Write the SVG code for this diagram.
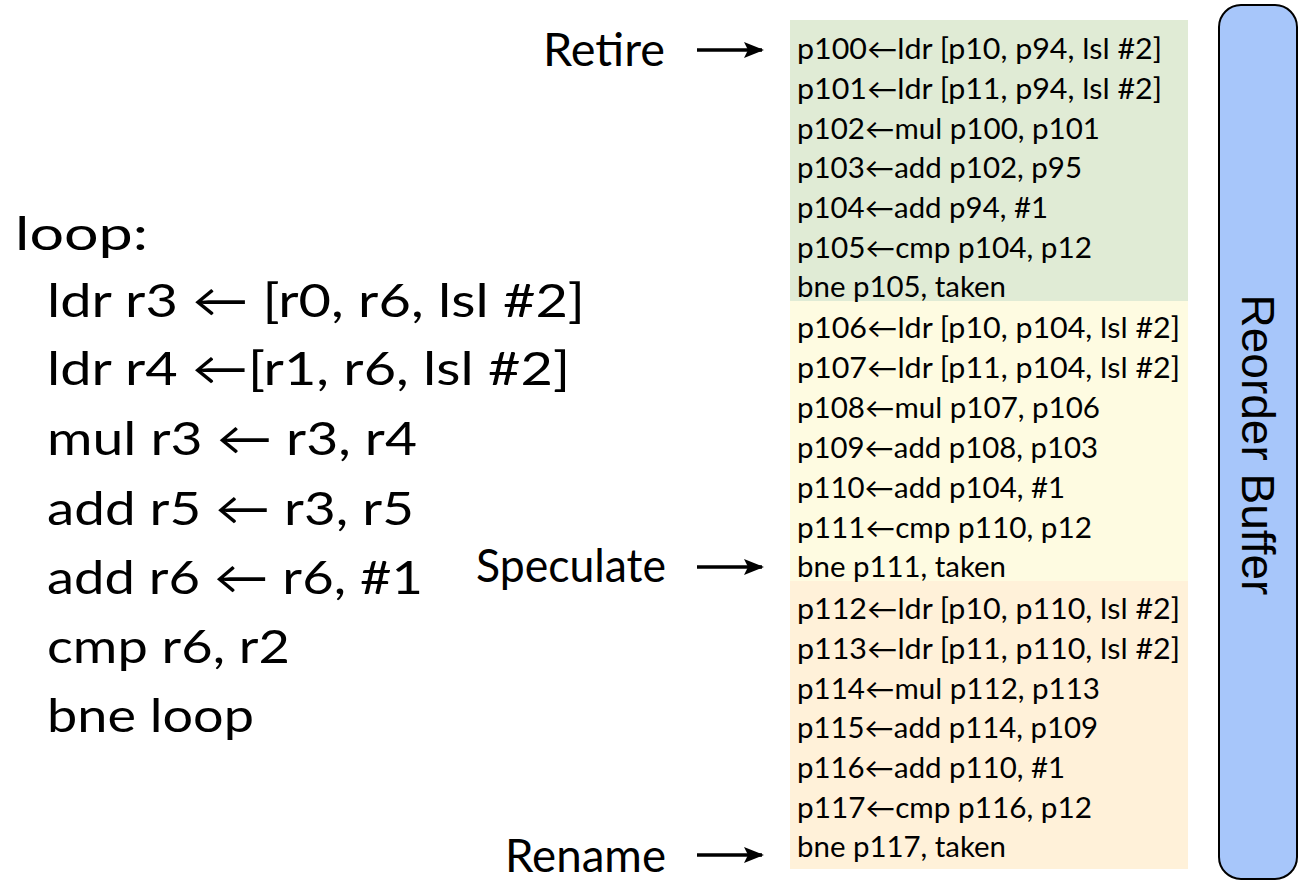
<svg xmlns="http://www.w3.org/2000/svg" width="1316" height="886" viewBox="0 0 1316 886">
<style>
.code{font-family:Lato,"Open Sans","DejaVu Sans",sans-serif;font-size:46px;fill:#000}
.rob{font-family:Lato,"Open Sans","DejaVu Sans",sans-serif;font-size:28px;fill:#000}
.lbl{font-family:Lato,"Open Sans","DejaVu Sans",sans-serif;font-size:46px;fill:#000}
.title{font-family:"Liberation Sans",Arial,sans-serif;font-size:46px;fill:#000}
</style>
<defs>
<marker id="ah" viewBox="0 0 20 16" refX="18" refY="8" markerWidth="20" markerHeight="16" orient="auto" markerUnits="userSpaceOnUse">
<path d="M0,0 L20,8 L0,16 L4,8 z" fill="#000"/>
</marker>
</defs>
<rect width="1316" height="886" fill="#fff"/>

<g id="code">
<text class="code" x="15" y="250" textLength="133" lengthAdjust="spacingAndGlyphs">loop:</text>
<text class="code" x="47" y="317" textLength="538" lengthAdjust="spacingAndGlyphs">ldr r3 ← [r0, r6, lsl #2]</text>
<text class="code" x="47" y="385" textLength="523" lengthAdjust="spacingAndGlyphs">ldr r4 ←[r1, r6, lsl #2]</text>
<text class="code" x="47" y="455" textLength="370" lengthAdjust="spacingAndGlyphs">mul r3 ← r3, r4</text>
<text class="code" x="47" y="525" textLength="367" lengthAdjust="spacingAndGlyphs">add r5 ← r3, r5</text>
<text class="code" x="47" y="594" textLength="376" lengthAdjust="spacingAndGlyphs">add r6 ← r6, #1</text>
<text class="code" x="47" y="663" textLength="243" lengthAdjust="spacingAndGlyphs">cmp r6, r2</text>
<text class="code" x="47" y="732" textLength="207" lengthAdjust="spacingAndGlyphs">bne loop</text>
</g>

<g id="rob-entries">
<rect x="790" y="20" width="398" height="281" fill="#e0ebd5"/>
<rect x="790" y="301" width="398" height="280" fill="#fefbe1"/>
<rect x="790" y="581" width="398" height="288" fill="#fff1d9"/>
<text class="rob" x="797" y="59" textLength="365" lengthAdjust="spacingAndGlyphs">p100←ldr [p10, p94, lsl #2]</text>
<text class="rob" x="797" y="99" textLength="365" lengthAdjust="spacingAndGlyphs">p101←ldr [p11, p94, lsl #2]</text>
<text class="rob" x="797" y="139" textLength="303" lengthAdjust="spacingAndGlyphs">p102←mul p100, p101</text>
<text class="rob" x="797" y="178" textLength="285" lengthAdjust="spacingAndGlyphs">p103←add p102, p95</text>
<text class="rob" x="797" y="218" textLength="251" lengthAdjust="spacingAndGlyphs">p104←add p94, #1</text>
<text class="rob" x="797" y="258" textLength="295" lengthAdjust="spacingAndGlyphs">p105←cmp p104, p12</text>
<text class="rob" x="797" y="297" textLength="209" lengthAdjust="spacingAndGlyphs">bne p105, taken</text>
<text class="rob" x="797" y="338" textLength="383" lengthAdjust="spacingAndGlyphs">p106←ldr [p10, p104, lsl #2]</text>
<text class="rob" x="797" y="378" textLength="383" lengthAdjust="spacingAndGlyphs">p107←ldr [p11, p104, lsl #2]</text>
<text class="rob" x="797" y="418" textLength="303" lengthAdjust="spacingAndGlyphs">p108←mul p107, p106</text>
<text class="rob" x="797" y="458" textLength="301" lengthAdjust="spacingAndGlyphs">p109←add p108, p103</text>
<text class="rob" x="797" y="498" textLength="268" lengthAdjust="spacingAndGlyphs">p110←add p104, #1</text>
<text class="rob" x="797" y="538" textLength="295" lengthAdjust="spacingAndGlyphs">p111←cmp p110, p12</text>
<text class="rob" x="797" y="577" textLength="209" lengthAdjust="spacingAndGlyphs">bne p111, taken</text>
<text class="rob" x="797" y="619" textLength="383" lengthAdjust="spacingAndGlyphs">p112←ldr [p10, p110, lsl #2]</text>
<text class="rob" x="797" y="659" textLength="383" lengthAdjust="spacingAndGlyphs">p113←ldr [p11, p110, lsl #2]</text>
<text class="rob" x="797" y="699" textLength="303" lengthAdjust="spacingAndGlyphs">p114←mul p112, p113</text>
<text class="rob" x="797" y="738" textLength="301" lengthAdjust="spacingAndGlyphs">p115←add p114, p109</text>
<text class="rob" x="797" y="778" textLength="268" lengthAdjust="spacingAndGlyphs">p116←add p110, #1</text>
<text class="rob" x="797" y="818" textLength="295" lengthAdjust="spacingAndGlyphs">p117←cmp p116, p12</text>
<text class="rob" x="797" y="857" textLength="209" lengthAdjust="spacingAndGlyphs">bne p117, taken</text>
</g>

<g id="labels">
<text class="lbl" x="543" y="66" textLength="122" lengthAdjust="spacingAndGlyphs">Retire</text>
<text class="lbl" x="476" y="582" textLength="190" lengthAdjust="spacingAndGlyphs">Speculate</text>
<text class="lbl" x="505" y="872" textLength="161" lengthAdjust="spacingAndGlyphs">Rename</text>
</g>

<g id="rob">
<rect x="1219" y="5" width="78" height="874" rx="22" ry="22" fill="#a7c6fa" stroke="#000" stroke-width="2"/>
<text class="title" x="1258" y="445" text-anchor="middle" dominant-baseline="central" transform="rotate(90 1258 445)">Reorder Buffer</text>
</g>

<g id="connectors" stroke="#000" stroke-width="3.5" fill="none">
<line x1="697" y1="50" x2="762" y2="50" marker-end="url(#ah)"/>
<line x1="697" y1="567" x2="762" y2="567" marker-end="url(#ah)"/>
<line x1="697" y1="855" x2="762" y2="855" marker-end="url(#ah)"/>
</g>
</svg>
